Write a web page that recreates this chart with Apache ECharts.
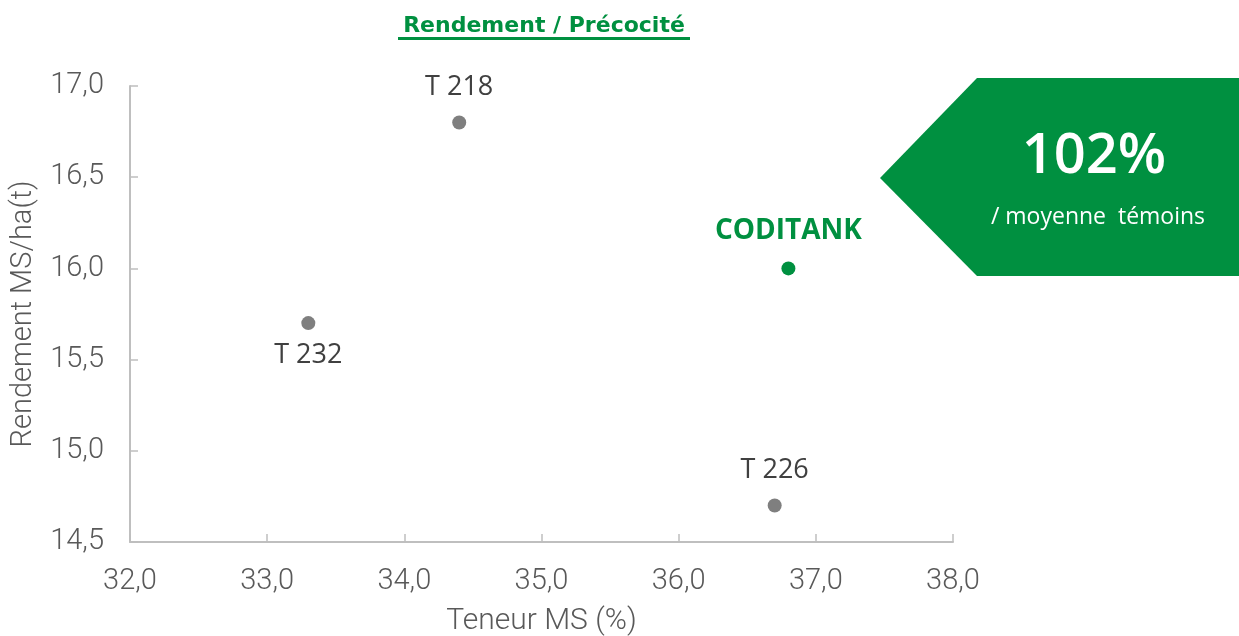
<!DOCTYPE html>
<html>
<head>
<meta charset="utf-8">
<title>Rendement / Précocité</title>
<script src="https://cdn.jsdelivr.net/npm/echarts@6/dist/echarts.min.js"></script>
<style>
    html, body { margin: 0; padding: 0; background: #fff; }
    #chart { width: 1239px; height: 636px; }
</style>
</head>
<body>
<div id="chart"></div>
<script>
// Hybrids and their values (Teneur MS %, Rendement MS/ha t)
var varieties = ['T 218', 'T 232', 'T 226', 'CODITANK'];
var teneurMS = [34.4, 33.3, 36.7, 36.8];
var rendement = [16.8, 15.7, 14.7, 16.0];
var labelPositions = ['top', 'bottom', 'top', 'top'];
var xTicks = [32, 33, 34, 35, 36, 37, 38];
var yTicks = [14.5, 15, 15.5, 16, 16.5, 17];
var highlight = 'CODITANK';
var badgeValue = '102%';
var badgeText = '/ moyenne  témoins';

(function() {
    'use strict';

    var green = '#009040';
    var grey = '#7f7f7f';
    var axisColor = '#bfbfbf';
    var textColor = '#595959';

    var chart = echarts.init(document.getElementById('chart'));

    function fmt(v) {
        return v.toFixed(1).replace('.', ',');
    }

    var controls = [];
    var tested = [];
    varieties.forEach(function(name, i) {
        var pos = labelPositions[i];
        var item = {
            name: name,
            value: [teneurMS[i], rendement[i]],
            label: { position: pos, distance: pos === 'bottom' ? 12 : 15 }
        };
        if (name === highlight) {
            item.label.distance = 16;
            tested.push(item);
        } else {
            controls.push(item);
        }
    });

    var option = {
        animation: false,
        grid: { left: 130, right: 286, top: 86, bottom: 94, outerBoundsMode: 'none' },
        xAxis: {
            type: 'value',
            min: xTicks[0],
            max: xTicks[xTicks.length - 1],
            interval: 1,
            name: 'Teneur MS (%)',
            nameLocation: 'middle',
            nameGap: 64,
            nameTextStyle: { fontSize: 30, color: textColor, fontFamily: 'Roboto', fontWeight: 300 },
            axisLine: { lineStyle: { color: axisColor, width: 2 } },
            axisTick: { inside: true, length: 8, lineStyle: { color: axisColor, width: 1.5 } },
            axisLabel: { fontSize: 29, color: textColor, margin: 25, fontFamily: 'Roboto', fontWeight: 300, formatter: fmt },
            splitLine: { show: false }
        },
        yAxis: {
            type: 'value',
            min: yTicks[0],
            max: yTicks[yTicks.length - 1],
            interval: 0.5,
            name: 'Rendement MS/ha(t)',
            nameLocation: 'middle',
            nameGap: 92,
            nameTextStyle: { fontSize: 29, color: textColor, fontFamily: 'Roboto', fontWeight: 300 },
            axisLine: { show: true, lineStyle: { color: axisColor, width: 2 } },
            axisTick: { show: true, inside: true, length: 8, lineStyle: { color: axisColor, width: 1.5 } },
            axisLabel: { fontSize: 29, color: textColor, margin: 26, fontFamily: 'Roboto', fontWeight: 300, formatter: fmt },
            splitLine: { show: false }
        },
        series: [{
            name: 'Témoins',
            type: 'scatter',
            symbolSize: 14,
            itemStyle: { color: grey, opacity: 1 },
            label: {
                show: true,
                formatter: '{b}',
                fontSize: 27,
                color: '#404040',
                fontFamily: 'Open Sans'
            },
            data: controls
        }, {
            name: highlight,
            type: 'scatter',
            symbolSize: 14,
            itemStyle: { color: green, opacity: 1 },
            label: {
                show: true,
                formatter: '{b}',
                fontSize: 28,
                fontWeight: 'bold',
                color: green,
                fontFamily: 'Open Sans'
            },
            data: tested
        }],
        graphic: [
            {
                type: 'text',
                x: 544,
                y: 26,
                style: {
                    text: 'Rendement / Précocité',
                    fontSize: 22,
                    fontWeight: 'bold',
                    fontFamily: 'DejaVu Sans',
                    fill: green,
                    align: 'center',
                    verticalAlign: 'middle'
                }
            },
            {
                type: 'line',
                shape: { x1: 398, y1: 38.5, x2: 690, y2: 38.5 },
                style: { stroke: green, lineWidth: 3 }
            },
            {
                type: 'polygon',
                shape: { points: [[880, 178], [977, 78], [1239, 78], [1239, 276], [977, 276]] },
                style: { fill: green }
            },
            {
                type: 'text',
                x: 1094,
                y: 157,
                style: {
                    text: badgeValue,
                    fontSize: 56,
                    fontWeight: 600,
                    fontFamily: 'Open Sans',
                    fill: '#fff',
                    align: 'center',
                    verticalAlign: 'middle'
                }
            },
            {
                type: 'text',
                x: 1098,
                y: 217,
                style: {
                    text: badgeText,
                    fontSize: 23,
                    fontFamily: 'Open Sans',
                    fill: '#fff',
                    align: 'center',
                    verticalAlign: 'middle'
                }
            }
        ]
    };

    chart.setOption(option);

    window.addEventListener('resize', function() {
        chart.resize();
    });
})();
</script>
</body>
</html>
